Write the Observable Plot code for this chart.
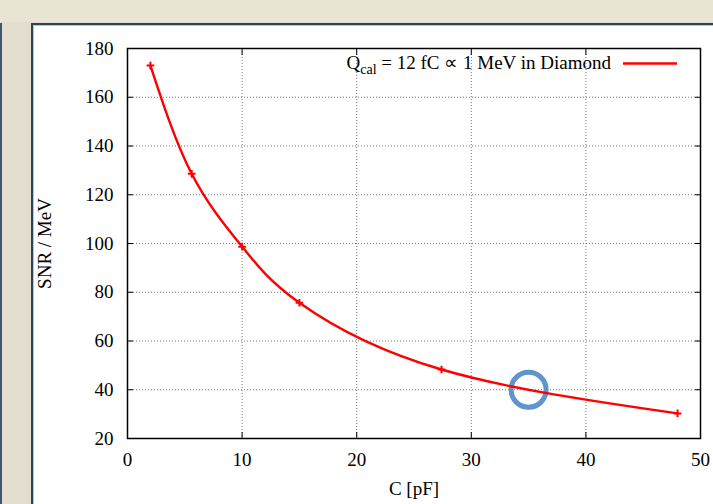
<!DOCTYPE html>
<html>
<head>
<meta charset="utf-8">
<script src="https://cdn.jsdelivr.net/npm/d3@7"></script>
<script src="https://cdn.jsdelivr.net/npm/@observablehq/plot@0.6"></script>
<style>
  html, body { margin: 0; padding: 0; }
  body { width: 713px; height: 504px; overflow: hidden; position: relative; background: #e3ddcf; font-family: "Liberation Serif", serif; }
  #topband { position: absolute; left: 0; top: 0; width: 713px; height: 22px; background: #e9e5d5; }
  #leftline { position: absolute; left: 0; top: 23px; width: 2px; height: 481px; background: #3e5674; }
  #panel { position: absolute; left: 31px; top: 23px; width: 700px; height: 500px; background: #fff;
           border-top: 2px solid #2a4360; border-left: 2px solid #2a4360; box-shadow: inset 1px 1px 0 #b3c8e0; }
  #chart { position: absolute; left: 0; top: 0; }
</style>
</head>
<body>
<div id="topband"></div>
<div id="leftline"></div>
<div id="panel"></div>
<div id="chart"></div>
<script>
// Data
const capacitance = [2, 5.6, 10, 15, 27.4, 48];          // C [pF]
const snr = [173, 128.6, 98.7, 75.7, 48.3, 30.3];         // SNR / MeV
const highlightC = [35];
const highlightSNR = [40];
const xTicks = [0, 10, 20, 30, 40, 50];
const yTicks = [20, 40, 60, 80, 100, 120, 140, 160, 180];
const legendLabel = ["Q", "cal", " = 12 fC \u221d 1 MeV in Diamond"];

const data = capacitance.map((c, i) => ({c, s: snr[i]}));
const highlight = highlightC.map((c, i) => ({c, s: highlightSNR[i]}));

const W = 713, H = 504;
const mL = 127, mR = 13, mT = 48, mB = 66;
const red = "#ff0000";
const FS = 19;

const plot = Plot.plot({
  width: W, height: H,
  marginLeft: mL, marginRight: mR, marginTop: mT, marginBottom: mB,
  style: {background: "transparent", fontFamily: "Liberation Serif, serif", fontSize: FS + "px", color: "#000"},
  x: {domain: [0, 50], ticks: xTicks},
  y: {domain: [20, 180], ticks: yTicks},
  marks: [
    Plot.gridX(xTicks, {stroke: "#777", strokeOpacity: 1, strokeDasharray: "1,2", strokeWidth: 1}),
    Plot.gridY(yTicks, {stroke: "#777", strokeOpacity: 1, strokeDasharray: "1,2", strokeWidth: 1}),
    Plot.axisX(xTicks, {anchor: "bottom", tickSize: 0, tickPadding: 14, fontSize: FS, label: "C [pF]", labelAnchor: "center", labelArrow: "none", labelOffset: 56}),
    Plot.axisY(yTicks, {anchor: "left", tickSize: 0, tickPadding: 14, fontSize: FS, label: "SNR / MeV", labelAnchor: "center", labelArrow: "none", labelOffset: 90}),
    Plot.axisX(xTicks, {anchor: "bottom", tickSize: -6, tickFormat: () => "", label: null}),
    Plot.axisX(xTicks, {anchor: "top", tickSize: -6, tickFormat: () => "", label: null}),
    Plot.axisY(yTicks, {anchor: "left", tickSize: -6, tickFormat: () => "", label: null}),
    Plot.axisY(yTicks, {anchor: "right", tickSize: -6, tickFormat: () => "", label: null}),
    Plot.frame({stroke: "#000", strokeWidth: 1.5}),
    Plot.dot(highlight, {x: "c", y: "s", r: 17.5, stroke: "#5f94cc", strokeWidth: 5, fill: "none"}),
    Plot.line(data, {x: "c", y: "s", curve: "natural", stroke: red, strokeWidth: 2.4}),
    Plot.dot(data, {x: "c", y: "s", symbol: "plus", r: 2.6, stroke: red, strokeWidth: 2})
  ]
});
document.getElementById("chart").appendChild(plot);

// Legend (gnuplot style, top-right inside the frame)
const svg = d3.select(plot);
const lg = svg.append("g").attr("font-family", "Liberation Serif, serif").attr("font-size", FS).attr("fill", "#000");
const t = lg.append("text").attr("x", 611).attr("y", 69).attr("text-anchor", "end");
t.append("tspan").text(legendLabel[0]);
t.append("tspan").attr("font-size", 14).attr("dy", 5).text(legendLabel[1]);
t.append("tspan").attr("dy", -5).text(legendLabel[2]);
lg.append("line").attr("x1", 623).attr("x2", 677).attr("y1", 63.5).attr("y2", 63.5).attr("stroke", red).attr("stroke-width", 2.4);
</script>
</body>
</html>
